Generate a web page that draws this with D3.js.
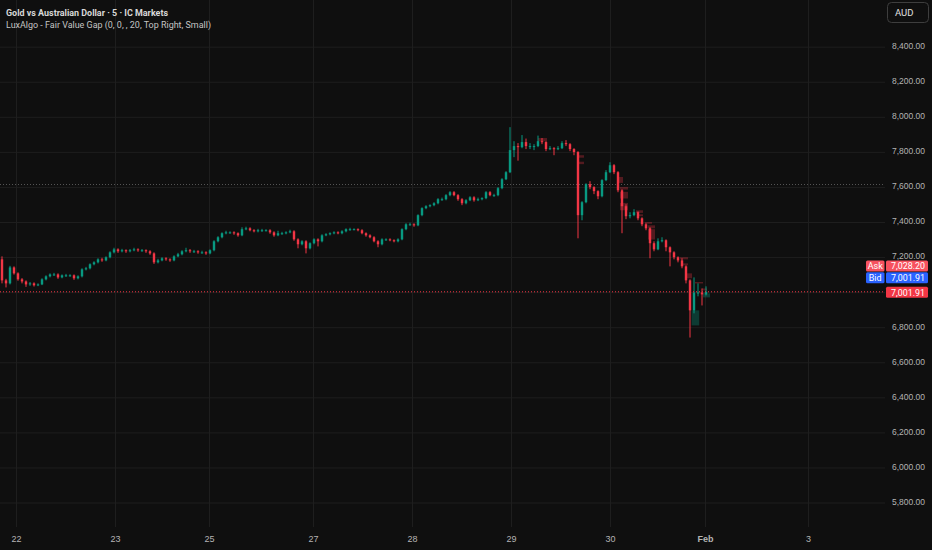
<!DOCTYPE html>
<html>
<head>
<meta charset="utf-8">
<script src="https://cdn.jsdelivr.net/npm/d3@7"></script>
<style>
  body { margin: 0; background: #0f0f0f; }
  svg { display: block; font-family: Roboto, "Noto Sans", sans-serif; }
</style>
</head>
<body>
<svg width="932" height="550"></svg>
<script>
var closes = [7067,7050,7141,7107,7073,7061,7044,7050,7039,7044,7073,7090,7101,7101,7084,7096,7096,7096,7079,7090,
  7130,7136,7159,7170,7187,7181,7199,7227,7244,7233,7239,7233,7239,7244,7239,7239,7233,7221,7170,7181,
  7193,7187,7181,7204,7216,7233,7239,7233,7233,7227,7227,7221,7239,7290,7313,7336,7341,7341,7336,7324,
  7359,7364,7353,7347,7353,7353,7353,7341,7324,7336,7336,7341,7347,7301,7273,7290,7250,7279,7301,7290,
  7324,7330,7336,7341,7336,7347,7359,7359,7359,7353,7336,7324,7313,7290,7273,7301,7301,7296,7290,7301,
  7359,7387,7387,7381,7439,7479,7490,7496,7507,7530,7530,7553,7570,7553,7530,7507,7524,7541,7524,7530,
  7536,7570,7553,7553,7593,7644,7684,7810,7833,7827,7856,7833,7833,7833,7861,7856,7816,7821,7816,7821,
  7850,7844,7816,7799,7439,7513,7616,7599,7576,7547,7639,7684,7724,7684,7581,7490,7433,7439,7456,7421,
  7387,7364,7279,7244,7290,7296,7256,7227,7199,7181,7147,7067,6896,6998,6998,6987,7001.91];

var opens = [7187,7067,7050,7141,7107,7073,7061,7044,7050,7039,7044,7073,7090,7101,7101,7084,7096,7096,7096,7079,
  7090,7130,7136,7159,7170,7187,7181,7199,7227,7244,7233,7239,7233,7239,7244,7239,7239,7233,7221,7170,
  7181,7193,7187,7181,7204,7216,7233,7239,7233,7233,7227,7227,7221,7239,7290,7313,7336,7341,7341,7336,
  7324,7359,7364,7353,7347,7353,7353,7353,7341,7324,7336,7336,7341,7347,7301,7273,7290,7250,7279,7301,
  7290,7324,7330,7336,7341,7336,7347,7359,7359,7359,7353,7336,7324,7313,7290,7273,7301,7301,7296,7290,
  7301,7359,7387,7387,7381,7439,7479,7490,7496,7507,7530,7530,7553,7570,7553,7530,7507,7524,7541,7524,
  7530,7536,7570,7553,7553,7593,7644,7684,7810,7833,7827,7856,7833,7833,7833,7861,7856,7816,7821,7816,
  7821,7850,7844,7816,7799,7439,7513,7616,7599,7576,7547,7639,7684,7724,7684,7581,7490,7433,7439,7456,
  7421,7387,7364,7279,7244,7290,7296,7256,7227,7199,7181,7147,7067,6896,6998,6998,6987];

var highs = [7204,7076,7150,7147,7113,7080,7067,7058,7056,7050,7079,7096,7107,7110,7107,7101,7104,7102,7101,7096,
  7136,7144,7164,7176,7193,7196,7204,7233,7253,7250,7247,7244,7246,7253,7250,7246,7244,7239,7227,7190,
  7199,7199,7193,7210,7224,7239,7253,7246,7241,7239,7236,7233,7244,7296,7319,7341,7350,7347,7347,7341,
  7370,7373,7370,7359,7361,7361,7359,7359,7347,7350,7344,7347,7356,7353,7307,7296,7296,7284,7307,7307,
  7330,7336,7341,7347,7347,7353,7364,7367,7364,7364,7359,7341,7330,7319,7296,7307,7307,7307,7301,7307,
  7364,7393,7396,7393,7444,7484,7496,7501,7513,7536,7539,7559,7576,7576,7559,7536,7530,7547,7547,7539,
  7541,7576,7576,7561,7599,7650,7690,7941,7861,7850,7896,7876,7850,7844,7893,7879,7861,7833,7827,7833,
  7861,7867,7850,7821,7804,7519,7621,7633,7604,7581,7644,7696,7741,7730,7690,7587,7501,7456,7473,7461,
  7427,7393,7370,7290,7307,7313,7301,7261,7233,7204,7193,7153,7073,7084,7050,7021,7033];

var lows = [7050,7027,7044,7100,7065,7050,7030,7036,7032,7034,7040,7067,7084,7093,7076,7079,7087,7088,7070,7073,
  7084,7124,7130,7153,7164,7173,7176,7193,7221,7224,7227,7224,7227,7233,7230,7230,7224,7213,7161,7164,
  7176,7179,7173,7176,7199,7210,7227,7224,7224,7219,7219,7213,7216,7233,7284,7307,7330,7333,7327,7316,
  7319,7353,7347,7341,7341,7344,7347,7333,7316,7319,7327,7330,7336,7293,7250,7267,7221,7244,7273,7261,
  7284,7319,7324,7330,7330,7330,7341,7350,7353,7347,7330,7316,7307,7284,7256,7267,7293,7290,7284,7284,
  7296,7353,7379,7373,7376,7433,7473,7484,7490,7501,7521,7524,7547,7547,7521,7496,7501,7519,7516,7519,
  7524,7530,7547,7544,7547,7587,7639,7679,7770,7750,7821,7816,7816,7810,7827,7844,7804,7810,7781,7810,
  7816,7833,7804,7781,7307,7410,7507,7587,7559,7530,7541,7633,7679,7673,7570,7336,7416,7421,7433,7410,
  7376,7353,7193,7233,7239,7284,7233,7147,7187,7170,7136,7050,6741,6879,6976,6924,6981];

// fair value gap boxes: start bar, end bar, top, bottom
var fvgStart  = [134.5,144.25,144.25,154.25,155,155,155,159,159.25,161.25,162,162,170,170.5,171.25,173.75,175.5,172.9,175.75];
var fvgEnd    = [136.75,146,146,155.75,157,157,157,160.75,160.75,163,163.75,163.75,172,172,173,175.75,176.75,174.8,177.5];
var fvgTop    = [7879,7781,7744,7657,7600,7572,7509,7467,7444,7400,7381,7359,7199,7164,7107,7058,7021,6896,6993];
var fvgBottom = [7861,7767,7730,7623,7585,7534,7467,7452,7433,7390,7364,7300,7187,7153,7079,7050,7010,6810,6970];
var fvgBull   = [0,0,0,0,0,0,0,0,0,0,0,0,0,0,0,0,0,1,1];

var priceTicks = [5800,6000,6200,6400,6600,6800,7000,7200,7400,7600,7800,8000,8200,8400];
var timeLabels = ["22","23","25","27","28","29","30","Feb","3"];
var timeTickBars = [4,28.75,52.25,78.25,103,127.75,152.5,176.25,202];

var askPrice = 7028.20, bidPrice = 7001.91, lastPrice = 7001.91;
var prevLine = 7614;

var upColor = "#089981", downColor = "#f23645";

var svg = d3.select("svg"),
plotW = 885, plotH = 527;

svg.append("rect").attr("width", 932).attr("height", 550).attr("fill", "#0f0f0f");

var x = d3.scaleLinear().domain([0, 221.25]).range([0, plotW]);
var y = d3.scaleLinear().domain([5800, 8400]).range([502.5, 46.7]);

// grid
var grid = svg.append("g");
grid.append("g")
  .call(d3.axisLeft(y).tickValues(priceTicks).tickSize(-plotW).tickFormat(""))
  .call(function(g) { g.select(".domain").remove(); })
  .selectAll("line").attr("stroke", "#1e1e1e");
grid.append("g")
  .attr("transform", "translate(0," + plotH + ")")
  .call(d3.axisBottom(x).tickValues(timeTickBars).tickSize(-plotH).tickFormat(""))
  .call(function(g) { g.select(".domain").remove(); })
  .selectAll("line").attr("stroke", "#1e1e1e");

// dotted reference line
svg.append("line")
  .attr("x1", 0).attr("x2", plotW)
  .attr("y1", y(prevLine)).attr("y2", y(prevLine))
  .attr("stroke", "#555555").attr("stroke-dasharray", "1,2");

// fvg boxes
svg.append("g").selectAll("rect")
  .data(fvgStart)
  .enter().append("rect")
  .attr("x", function(d) { return x(d); })
  .attr("width", function(d, i) { return x(fvgEnd[i]) - x(d); })
  .attr("y", function(d, i) { return y(fvgTop[i]); })
  .attr("height", function(d, i) { return Math.max(1.5, y(fvgBottom[i]) - y(fvgTop[i])); })
  .attr("fill", function(d, i) { return fvgBull[i] ? "rgba(8,153,129,0.32)" : "rgba(242,54,69,0.3)"; });

// candles
var candle = svg.append("g").selectAll("g")
  .data(closes)
  .enter().append("g")
  .attr("fill", function(d, i) { return d >= opens[i] ? upColor : downColor; })
  .attr("stroke", function(d, i) { return d >= opens[i] ? upColor : downColor; });

candle.append("line")
  .attr("x1", function(d, i) { return x(i + 0.5); })
  .attr("x2", function(d, i) { return x(i + 0.5); })
  .attr("y1", function(d, i) { return y(highs[i]); })
  .attr("y2", function(d, i) { return y(lows[i]); })
  .attr("stroke-width", 1);

candle.append("rect")
  .attr("x", function(d, i) { return x(i + 0.5) - 1.2; })
  .attr("width", 2.4)
  .attr("y", function(d, i) { return y(Math.max(d, opens[i])); })
  .attr("height", function(d, i) { return Math.max(1, Math.abs(y(d) - y(opens[i]))); })
  .attr("stroke", "none");

// last price line
svg.append("line")
  .attr("x1", 0).attr("x2", plotW)
  .attr("y1", y(lastPrice)).attr("y2", y(lastPrice))
  .attr("stroke", "#f23645").attr("stroke-dasharray", "1,2");

// price axis (7,000 label sits under the price tags)
var yAxis = svg.append("g")
  .attr("transform", "translate(925,0)")
  .call(d3.axisRight(y).tickValues(priceTicks).tickSize(0).tickFormat(d3.format(",.2f")));
yAxis.select(".domain").remove();
yAxis.selectAll(".tick").filter(function(d) { return d == 7000; }).remove();
yAxis.selectAll("text")
  .attr("x", 0).attr("dy", "0.2em")
  .attr("text-anchor", "end")
  .attr("fill", "#b4b4b4")
  .style("font-size", "9.5px")
  .attr("textLength", 33).attr("lengthAdjust", "spacingAndGlyphs");

// time axis
var xAxis = svg.append("g")
  .attr("transform", "translate(0," + plotH + ")")
  .call(d3.axisBottom(x).tickValues(timeTickBars).tickSize(0).tickFormat(function(d, i) { return timeLabels[i]; }));
xAxis.select(".domain").remove();
xAxis.selectAll("text")
  .attr("y", 9)
  .attr("fill", "#b4b4b4")
  .style("font-size", "9px")
  .style("font-weight", function(d, i) { return timeLabels[i] == "Feb" ? "bold" : "normal"; });

// price tags
var tags = [
  {name: "Ask", value: askPrice, color: "#f7525f", top: 260.5},
  {name: "Bid", value: bidPrice, color: "#2962ff", top: 272.2},
  {name: null, value: lastPrice, color: "#f23645", top: 286.7}
];
var tag = svg.append("g").selectAll("g").data(tags).enter().append("g");
tag.append("rect")
  .attr("x", 886).attr("y", function(d) { return d.top; })
  .attr("width", 42).attr("height", 11)
  .attr("rx", 1.5)
  .attr("fill", function(d) { return d.color; });
tag.append("text")
  .attr("x", 925).attr("y", function(d) { return d.top + 8.8; })
  .attr("text-anchor", "end")
  .attr("fill", "#ffffff")
  .style("font-size", "9.5px")
  .attr("textLength", 34).attr("lengthAdjust", "spacingAndGlyphs")
  .text(function(d) { return d3.format(",.2f")(d.value); });
var named = tag.filter(function(d) { return d.name; });
named.append("rect")
  .attr("x", 866).attr("y", function(d) { return d.top; })
  .attr("width", 18.5).attr("height", 11)
  .attr("rx", 1.5)
  .attr("fill", function(d) { return d.color; });
named.append("text")
  .attr("x", 875.2).attr("y", function(d) { return d.top + 8.8; })
  .attr("text-anchor", "middle")
  .attr("fill", "#ffffff")
  .style("font-size", "9px")
  .text(function(d) { return d.name; });

// currency box
svg.append("rect")
  .attr("x", 887.5).attr("y", 2.5).attr("width", 41).attr("height", 20).attr("rx", 4)
  .attr("fill", "#0f0f0f").attr("stroke", "#3e3e3e");
svg.append("text")
  .attr("x", 895).attr("y", 16)
  .attr("fill", "#e0e0e0")
  .style("font-size", "9.5px")
  .text("AUD");

// legend
svg.append("text")
  .attr("x", 6).attr("y", 15.5)
  .attr("fill", "#d8d8d8")
  .style("font-size", "9.5px")
  .style("font-weight", "bold")
  .attr("textLength", 162).attr("lengthAdjust", "spacingAndGlyphs")
  .text("Gold vs Australian Dollar · 5 · IC Markets");
svg.append("text")
  .attr("x", 6).attr("y", 28)
  .attr("fill", "#c4c4c4")
  .style("font-size", "9.5px")
  .attr("textLength", 205).attr("lengthAdjust", "spacingAndGlyphs")
  .text("LuxAlgo - Fair Value Gap (0, 0, , 20, Top Right, Small)");
</script>
</body>
</html>
